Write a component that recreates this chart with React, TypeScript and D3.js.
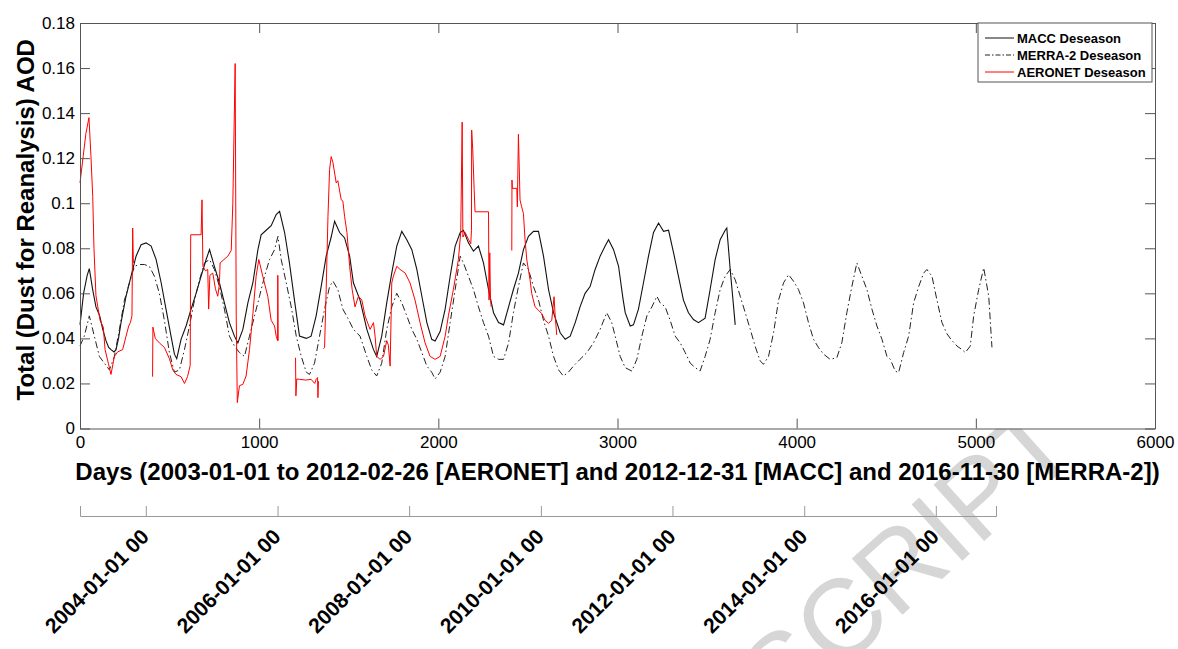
import * as d3 from "d3";
import { useEffect, useRef } from "react";

// axis ticks
const xTicks = [0, 1000, 2000, 3000, 4000, 5000, 6000];
const yTicks = [0, 0.02, 0.04, 0.06, 0.08, 0.1, 0.12, 0.14, 0.16, 0.18];
const dateStart = "2003-01-01";
const dateEnd = "2016-11-30";
const dateTicks = ["2004-01-01", "2006-01-01", "2008-01-01", "2010-01-01", "2012-01-01", "2014-01-01", "2016-01-01"];
const seriesNames = ["MACC Deseason", "MERRA-2 Deseason", "AERONET Deseason"];

// MACC (solid black)
const maccDay = [0, 20, 40, 52, 70, 89, 110, 127, 145, 160, 173, 190, 201, 215, 229, 257, 285, 313, 341, 369, 397, 425, 453, 480, 508, 527, 540, 564, 592, 620, 648, 676, 704, 723, 750, 778, 806, 834, 862, 881, 909, 937, 965, 993, 1011, 1039, 1067, 1095, 1114, 1142, 1169, 1197, 1225, 1263, 1290, 1318, 1346, 1374, 1402, 1421, 1449, 1477, 1505, 1526, 1563, 1601, 1638, 1656, 1684, 1712, 1740, 1768, 1796, 1824, 1852, 1880, 1908, 1936, 1963, 1982, 2010, 2038, 2066, 2094, 2122, 2140, 2168, 2196, 2224, 2252, 2280, 2308, 2336, 2364, 2392, 2419, 2447, 2475, 2503, 2531, 2559, 2587, 2615, 2643, 2680, 2708, 2736, 2764, 2791, 2819, 2847, 2875, 2903, 2931, 2950, 2978, 3006, 3030, 3043, 3071, 3089, 3117, 3145, 3173, 3201, 3229, 3257, 3285, 3313, 3340, 3368, 3396, 3424, 3452, 3489, 3517, 3545, 3573, 3601, 3610, 3629, 3648, 3657];
const maccAod = [0.046, 0.06, 0.068, 0.071, 0.062, 0.054, 0.05, 0.044, 0.039, 0.036, 0.035, 0.034, 0.035, 0.04, 0.047, 0.0587, 0.0676, 0.0765, 0.0816, 0.0824, 0.081, 0.075, 0.0647, 0.053, 0.041, 0.033, 0.031, 0.0396, 0.0455, 0.053, 0.06, 0.0676, 0.075, 0.0794, 0.072, 0.0647, 0.0558, 0.047, 0.041, 0.038, 0.044, 0.0558, 0.0647, 0.0794, 0.086, 0.088, 0.09, 0.095, 0.0964, 0.087, 0.0735, 0.057, 0.041, 0.04, 0.041, 0.05, 0.063, 0.0765, 0.085, 0.092, 0.087, 0.0846, 0.0765, 0.0647, 0.057, 0.044, 0.035, 0.032, 0.041, 0.0558, 0.069, 0.081, 0.0875, 0.0838, 0.0794, 0.0706, 0.0587, 0.047, 0.0396, 0.0388, 0.043, 0.053, 0.0676, 0.081, 0.087, 0.088, 0.0824, 0.0787, 0.081, 0.0735, 0.0617, 0.0514, 0.047, 0.046, 0.054, 0.0617, 0.069, 0.0794, 0.0853, 0.0875, 0.0875, 0.0765, 0.0617, 0.0514, 0.0425, 0.0396, 0.041, 0.047, 0.054, 0.06, 0.063, 0.0706, 0.0765, 0.081, 0.0838, 0.0794, 0.072, 0.058, 0.0514, 0.0455, 0.046, 0.053, 0.0647, 0.0765, 0.087, 0.0912, 0.0875, 0.088, 0.078, 0.0676, 0.057, 0.0514, 0.0484, 0.047, 0.049, 0.0617, 0.075, 0.0838, 0.088, 0.089, 0.0706, 0.054, 0.046];

// MERRA-2 (dash-dot black)
const merraDay = [0, 24, 52, 80, 108, 136, 164, 192, 220, 248, 276, 304, 332, 359, 387, 415, 443, 471, 499, 527, 555, 583, 611, 639, 667, 695, 723, 750, 778, 806, 834, 862, 890, 918, 946, 974, 1002, 1030, 1058, 1086, 1105, 1123, 1151, 1179, 1207, 1235, 1263, 1281, 1309, 1337, 1365, 1393, 1412, 1439, 1467, 1495, 1526, 1563, 1601, 1628, 1656, 1684, 1712, 1740, 1768, 1796, 1824, 1852, 1880, 1908, 1936, 1963, 1982, 2010, 2038, 2066, 2094, 2122, 2140, 2168, 2196, 2224, 2252, 2280, 2308, 2336, 2364, 2392, 2419, 2447, 2475, 2503, 2531, 2559, 2587, 2615, 2643, 2671, 2698, 2726, 2754, 2791, 2829, 2866, 2903, 2940, 2968, 2987, 3015, 3043, 3080, 3108, 3136, 3164, 3192, 3220, 3238, 3266, 3294, 3322, 3350, 3378, 3406, 3434, 3461, 3489, 3517, 3545, 3573, 3601, 3629, 3657, 3685, 3713, 3741, 3768, 3796, 3815, 3843, 3871, 3899, 3927, 3955, 3982, 4010, 4038, 4066, 4094, 4122, 4150, 4187, 4224, 4252, 4280, 4308, 4336, 4364, 4392, 4420, 4448, 4476, 4504, 4523, 4550, 4569, 4597, 4625, 4653, 4681, 4709, 4727, 4755, 4783, 4811, 4839, 4867, 4895, 4923, 4941, 4969, 4988, 5016, 5044, 5072, 5090];
const merraAod = [0.0366, 0.041, 0.05, 0.041, 0.032, 0.029, 0.026, 0.032, 0.044, 0.057, 0.0647, 0.072, 0.0728, 0.0728, 0.072, 0.0676, 0.06, 0.048, 0.0337, 0.025, 0.026, 0.035, 0.0455, 0.057, 0.066, 0.0735, 0.075, 0.0706, 0.063, 0.053, 0.041, 0.0366, 0.0337, 0.032, 0.041, 0.05, 0.0587, 0.0676, 0.075, 0.0794, 0.0853, 0.075, 0.0647, 0.054, 0.041, 0.032, 0.025, 0.024, 0.029, 0.041, 0.053, 0.063, 0.0654, 0.0617, 0.053, 0.049, 0.044, 0.041, 0.032, 0.026, 0.0233, 0.029, 0.044, 0.054, 0.06, 0.0558, 0.05, 0.044, 0.0396, 0.0337, 0.0277, 0.025, 0.022, 0.025, 0.032, 0.047, 0.0617, 0.0765, 0.0735, 0.0676, 0.0617, 0.054, 0.047, 0.041, 0.032, 0.0307, 0.0307, 0.038, 0.0514, 0.063, 0.0735, 0.0706, 0.063, 0.057, 0.048, 0.041, 0.032, 0.026, 0.0233, 0.025, 0.0277, 0.0307, 0.0337, 0.038, 0.044, 0.0514, 0.047, 0.041, 0.032, 0.027, 0.0255, 0.0307, 0.041, 0.05, 0.054, 0.0587, 0.0558, 0.054, 0.048, 0.041, 0.038, 0.0337, 0.029, 0.027, 0.0255, 0.032, 0.0396, 0.0514, 0.0617, 0.0676, 0.0706, 0.066, 0.0587, 0.0514, 0.044, 0.0366, 0.03, 0.0285, 0.032, 0.0425, 0.057, 0.0647, 0.0683, 0.0654, 0.0617, 0.0558, 0.047, 0.0396, 0.0359, 0.033, 0.0307, 0.0314, 0.038, 0.0514, 0.063, 0.0735, 0.0676, 0.0617, 0.053, 0.0455, 0.0396, 0.032, 0.0307, 0.0255, 0.0248, 0.0337, 0.041, 0.0558, 0.063, 0.069, 0.0706, 0.0676, 0.057, 0.047, 0.042, 0.039, 0.0366, 0.035, 0.0337, 0.0366, 0.05, 0.0617, 0.0713, 0.0587, 0.036];

// AERONET (red), null = no data
const aeronetDay = [0, 18, 33, 50, 61, 71, 78, 89, 112, 130, 140, 158, 173, 192, 210, 238, 257, 272, 281, 290, 294, 298, 300,
  405, 407, 420, 443, 471, 499, 518, 536, 564, 583, 600, 615, 618, 676, 681, 686, 700, 713, 718, 725, 741, 756, 769, 778, 782, 825, 844, 853, 866, 872, 878, 890, 909, 927, 946, 965, 983, 998, 1020, 1048, 1067, 1086, 1095, 1103, 1104, 1106, 1150,
  1203, 1205, 1210, 1225, 1260, 1290, 1310, 1318, 1326, 1328, 1331, 1345,
  1359, 1365, 1374, 1384, 1393, 1402, 1412, 1430, 1439, 1458, 1467, 1477, 1490, 1505, 1519, 1535, 1554, 1573, 1591, 1619, 1638, 1647, 1656, 1675, 1694, 1712, 1721, 1731, 1740, 1749, 1768, 1787, 1815, 1842, 1870, 1898, 1926, 1954, 1982, 2010, 2038, 2056, 2084, 2112, 2125, 2133, 2137, 2150, 2168, 2181, 2185, 2186, 2192, 2200, 2205, 2280, 2283, 2287, 2291, 2295, 2350,
  2410, 2411, 2413, 2438, 2441, 2447, 2456, 2465, 2475, 2484, 2494, 2512, 2521, 2540, 2559, 2577, 2596, 2615, 2633, 2646, 2652, 2661];
const aeronetAod = [0.109, 0.121, 0.131, 0.138, 0.121, 0.103, 0.08, 0.059, 0.048, 0.045, 0.035, 0.029, 0.024, 0.032, 0.034, 0.035, 0.041, 0.0455, 0.047, 0.05, 0.089, 0.0735, null,
  0.023, 0.045, 0.04, 0.038, 0.036, 0.031, 0.026, 0.024, 0.023, 0.02, 0.023, 0.028, 0.086, 0.086, 0.1015, 0.072, 0.07, 0.0706, 0.053, 0.068, 0.069, 0.062, 0.0587, 0.064, 0.0735, 0.0765, 0.079, 0.1, 0.162, 0.05, 0.0115, 0.019, 0.0196, 0.0233, 0.035, 0.051, 0.0676, 0.075, 0.0676, 0.0587, 0.048, 0.0455, 0.041, 0.039, 0.068, 0.039, null,
  0.0314, 0.0145, 0.022, 0.0218, 0.0215, 0.0218, 0.02, 0.0218, 0.0226, 0.0137, 0.021, null,
  0.0354, 0.036, 0.0617, 0.094, 0.115, 0.1207, 0.118, 0.109, 0.11, 0.1015, 0.101, 0.094, 0.087, 0.072, 0.0617, 0.054, 0.0587, 0.057, 0.05, 0.044, 0.047, 0.041, 0.032, 0.0307, 0.032, 0.039, 0.037, 0.0277, 0.0646, 0.0676, 0.072, 0.0706, 0.069, 0.0646, 0.057, 0.047, 0.038, 0.032, 0.0307, 0.032, 0.041, 0.05, 0.0617, 0.075, 0.087, 0.136, 0.085, 0.087, 0.084, 0.082, 0.088, 0.1325, 0.124, 0.106, 0.0962, 0.0962, 0.057, 0.078, 0.058, 0.054, null,
  0.079, 0.1103, 0.1066, 0.1066, 0.0984, 0.1306, 0.1014, 0.0984, 0.0954, 0.0837, 0.0748, 0.066, 0.06, 0.054, 0.0525, 0.051, 0.048, 0.0467, 0.048, 0.0585, 0.05, 0.0415];

function App() {
  const ref = useRef(null);

  useEffect(() => {
    document.body.style.margin = "0";
    const width = 1178;
    const height = 649;
    const font = "'Liberation Sans', Arial, Helvetica, sans-serif";
    const axisColor = "#555";

    const svg = d3.select(ref.current);
    svg.selectAll("*").remove();
    svg.attr("width", width).attr("height", height).style("background", "#fff");

    const x = d3.scaleLinear().domain([0, 6000]).range([80, 1155]);
    const y = d3.scaleLinear().domain([0, 0.18]).range([428.5, 23]);

    // watermark (sits behind the axes)
    svg
      .append("text")
      .text("MANUSCRIPT")
      .attr("transform", "translate(1082,453) rotate(-42)")
      .attr("text-anchor", "end")
      .attr("font-family", font)
      .attr("font-size", 110)
      .attr("fill", "#d6d6d6");

    svg
      .append("rect")
      .attr("x", x(0))
      .attr("y", y(0.18))
      .attr("width", x(6000) - x(0))
      .attr("height", y(0) - y(0.18))
      .attr("fill", "#fff");

    const plot = svg.append("g");
    const line = d3
      .line()
      .defined((d) => d[1] != null)
      .x((d) => x(d[0]))
      .y((d) => y(d[1]));

    const macc = maccDay.map((d, i) => [d, maccAod[i]]);
    const merra = merraDay.map((d, i) => [d, merraAod[i]]);
    const aeronet = aeronetDay.map((d, i) => [d, aeronetAod[i]]);

    plot.append("path").datum(macc).attr("d", line).attr("fill", "none").attr("stroke", "#111").attr("stroke-width", 1.1);
    plot
      .append("path")
      .datum(merra)
      .attr("d", line)
      .attr("fill", "none")
      .attr("stroke", "#222")
      .attr("stroke-width", 1)
      .attr("stroke-dasharray", "7,3,1.5,3");
    plot.append("path").datum(aeronet).attr("d", line).attr("fill", "none").attr("stroke", "#ff0000").attr("stroke-width", 1);

    // axes, ticks pointing inward on all four sides
    const fmt = (d) => String(+(+d).toFixed(2));
    const styleAxis = (g) => {
      g.selectAll(".domain").attr("stroke", axisColor);
      g.selectAll(".tick line").attr("stroke", axisColor);
      g.selectAll(".tick text").attr("fill", "#000");
      g.attr("font-family", font).attr("font-size", 17);
    };

    svg
      .append("g")
      .attr("transform", `translate(0,${y(0)})`)
      .call(d3.axisBottom(x).tickValues(xTicks).tickFormat(fmt).tickSizeInner(-10).tickSizeOuter(0).tickPadding(7))
      .call(styleAxis);
    svg
      .append("g")
      .attr("transform", `translate(0,${y(0.18)})`)
      .call(d3.axisTop(x).tickValues(xTicks).tickFormat(() => "").tickSizeInner(-10).tickSizeOuter(0))
      .call(styleAxis);
    svg
      .append("g")
      .attr("transform", `translate(${x(0)},0)`)
      .call(d3.axisLeft(y).tickValues(yTicks).tickFormat(fmt).tickSizeInner(-10).tickSizeOuter(0).tickPadding(5))
      .call(styleAxis);
    svg
      .append("g")
      .attr("transform", `translate(${x(6000)},0)`)
      .call(d3.axisRight(y).tickValues(yTicks).tickFormat(() => "").tickSizeInner(-10).tickSizeOuter(0))
      .call(styleAxis);

    // axis titles
    svg
      .append("text")
      .text("Days (2003-01-01 to 2012-02-26 [AERONET] and 2012-12-31 [MACC] and 2016-11-30 [MERRA-2])")
      .attr("x", (x(0) + x(6000)) / 2)
      .attr("y", 480)
      .attr("text-anchor", "middle")
      .attr("font-family", font)
      .attr("font-weight", "bold")
      .attr("font-size", 24);
    svg
      .append("text")
      .text("Total (Dust for Reanalysis) AOD")
      .attr("transform", `translate(34,${(y(0) + y(0.18)) / 2 - 6}) rotate(-90)`)
      .attr("text-anchor", "middle")
      .attr("font-family", font)
      .attr("font-weight", "bold")
      .attr("font-size", 24);

    // calendar axis underneath
    const parse = d3.timeParse("%Y-%m-%d");
    const t = d3.scaleTime().domain([parse(dateStart), parse(dateEnd)]).range([80, 996]);
    const dateAxis = svg
      .append("g")
      .attr("transform", "translate(0,516)")
      .call(
        d3
          .axisBottom(t)
          .tickValues(dateTicks.map(parse))
          .tickFormat(d3.timeFormat("%Y-%m-%d 00"))
          .tickSizeInner(-10)
          .tickSizeOuter(-10)
      );
    dateAxis.selectAll(".domain").attr("stroke", "#999");
    dateAxis.selectAll(".tick line").attr("stroke", "#999");
    dateAxis
      .selectAll(".tick text")
      .attr("x", 0)
      .attr("y", 0)
      .attr("dy", 0)
      .attr("transform", "translate(4,22) rotate(-45)")
      .attr("text-anchor", "end")
      .attr("fill", "#000")
      .attr("font-weight", "bold");
    dateAxis.attr("font-family", font).attr("font-size", 21);

    // legend
    const legend = svg.append("g").attr("transform", "translate(978,23)");
    legend.append("rect").attr("width", 174).attr("height", 59).attr("fill", "#fff").attr("stroke", axisColor);
    const legendStyles = [
      { stroke: "#111", dash: null },
      { stroke: "#222", dash: "5,2,1.5,2" },
      { stroke: "#ff0000", dash: null },
    ];
    seriesNames.forEach((name, i) => {
      const ry = 15 + i * 17;
      legend
        .append("line")
        .attr("x1", 7)
        .attr("x2", 36)
        .attr("y1", ry)
        .attr("y2", ry)
        .attr("stroke", legendStyles[i].stroke)
        .attr("stroke-dasharray", legendStyles[i].dash);
      legend
        .append("text")
        .text(name)
        .attr("x", 39)
        .attr("y", ry + 4.5)
        .attr("font-family", font)
        .attr("font-weight", "bold")
        .attr("font-size", 13);
    });
  }, []);

  return <svg ref={ref} style={{ display: "block" }}></svg>;
}

export default App;
